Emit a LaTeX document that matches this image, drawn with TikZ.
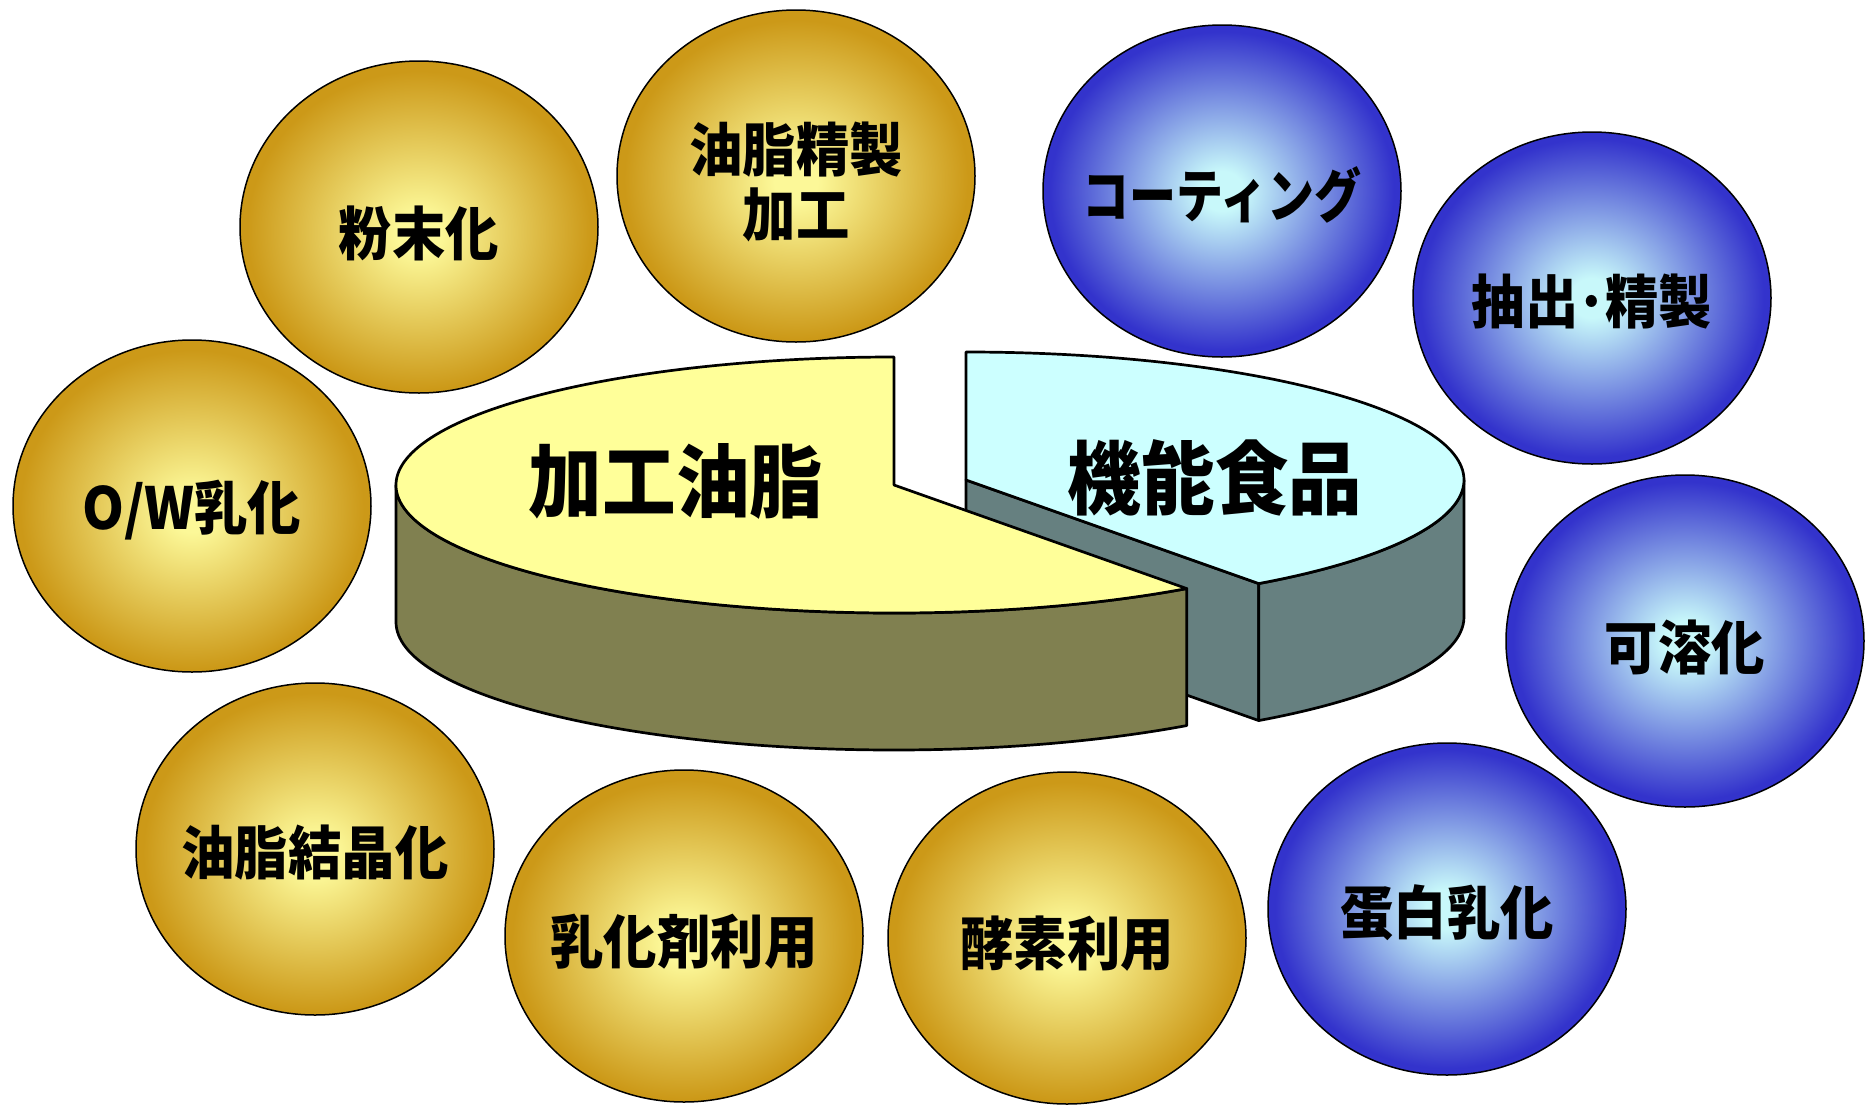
\documentclass[tikz,border=0pt]{standalone}
\usepackage{fontspec}
\usepackage{graphicx}
\newfontfamily\jpfont{Noto Sans CJK JP}[FakeStretch=0.92]
\usetikzlibrary{shapes.geometric,calc}
\definecolor{ytop}{RGB}{255,255,153}
\definecolor{yside}{RGB}{128,128,80}
\definecolor{btop}{RGB}{204,255,255}
\definecolor{bside}{RGB}{102,128,128}
\definecolor{gin}{RGB}{252,248,152}
\definecolor{gout}{RGB}{204,153,24}
\definecolor{bin}{RGB}{200,248,250}
\definecolor{bout}{RGB}{51,51,204}
\pgfdeclareradialshading{goldball}{\pgfpoint{0bp}{-1bp}}{color(0bp)=(gin); color(3bp)=(gin); color(24bp)=(gout); color(50bp)=(gout)}
\pgfdeclareradialshading{blueball}{\pgfpoint{0bp}{0bp}}{color(0bp)=(bin); color(3bp)=(bin); color(24bp)=(bout); color(50bp)=(bout)}
\tikzset{
  ball/.style={ellipse, draw=black, line width=0.75pt, minimum width=179pt, minimum height=166pt, inner sep=0pt},
  goldb/.style={ball, shading=goldball},
  blueb/.style={ball, shading=blueball},
  lbl/.style={font=\jpfont\bfseries\fontsize{29}{32.5}\selectfont, align=center, inner sep=0pt},
  pieline/.style={draw=black, line width=1.35pt, line join=round},
  pietext/.style={font=\jpfont\bfseries\fontsize{40}{44}\selectfont, inner sep=0pt},
}
\begin{document}
\begin{tikzpicture}[x=0.5pt,y=-0.5pt]
\useasboundingbox (0,0) rectangle (1865,1104);
\fill[white] (0,0) rectangle (1865,1104);
% balls
\node[goldb] (b1) at (419,227) {};
\node[goldb] (b2) at (796,176) {};
\node[blueb] (b3) at (1222,191) {};
\node[blueb] (b4) at (1592,298) {};
\node[goldb] (b5) at (192,506) {};
\node[blueb] (b6) at (1685,641) {};
\node[goldb] (b7) at (315,849) {};
\node[goldb] (b8) at (684,936) {};
\node[goldb] (b9) at (1067,938) {};
\node[blueb] (b10) at (1447,909) {};
\node[lbl] (l1) at ([yshift=-3pt]b1.center) {粉末化};
\node[lbl] (l2) at ([yshift=-3pt]b2.center) {油脂精製\\加工};
\node[lbl] (l3) at ([yshift=-2pt]b3.center) {\scalebox{0.88}[1]{コーティング}};
\node[lbl] (l4) at ([yshift=-2pt]b4.center) {抽出･精製};
\node[lbl] (l5) at ([yshift=-2pt]b5.center) {O/W乳化};
\node[lbl] (l6) at ([yshift=-3pt]b6.center) {可溶化};
\node[lbl] (l7) at ([yshift=-2pt]b7.center) {油脂結晶化};
\node[lbl] (l8) at ([yshift=-3pt]b8.center) {乳化剤利用};
\node[lbl] (l9) at ([yshift=-3pt]b9.center) {酵素利用};
\node[lbl] (l10) at ([yshift=-2pt]b10.center) {蛋白乳化};
% pie
\coordinate (cy) at (894,485);
\coordinate (cb) at (966,480);
% blue cut face
\draw[pieline, fill=bside] (cb) -- ($(cb)+(54:498 and 128)$) -- ++(0,137) -- ($(cb)+(0,137)$) -- cycle;
% blue outer side
\draw[pieline, fill=bside] ($(cb)+(0:498 and 128)$) arc[start angle=0,end angle=54,x radius=498,y radius=128] -- ++(0,137) arc[start angle=54,end angle=0,x radius=498,y radius=128] -- cycle;
% blue top
\draw[pieline, fill=btop] (cb) -- ($(cb)+(-90:498 and 128)$) arc[start angle=-90,end angle=54,x radius=498,y radius=128] -- cycle;
% yellow outer side
\draw[pieline, fill=yside] ($(cy)+(54:498 and 128)$) arc[start angle=54,end angle=180,x radius=498,y radius=128] -- ++(0,137) arc[start angle=180,end angle=54,x radius=498,y radius=128] -- cycle;
% yellow top
\draw[pieline, fill=ytop] (cy) -- ($(cy)+(54:498 and 128)$) arc[start angle=54,end angle=270,x radius=498,y radius=128] -- cycle;
\node[pietext] (t1) at (676,481) {加工油脂};
\node[pietext] (t2) at (1215,478) {機能食品};
\end{tikzpicture}
\end{document}
